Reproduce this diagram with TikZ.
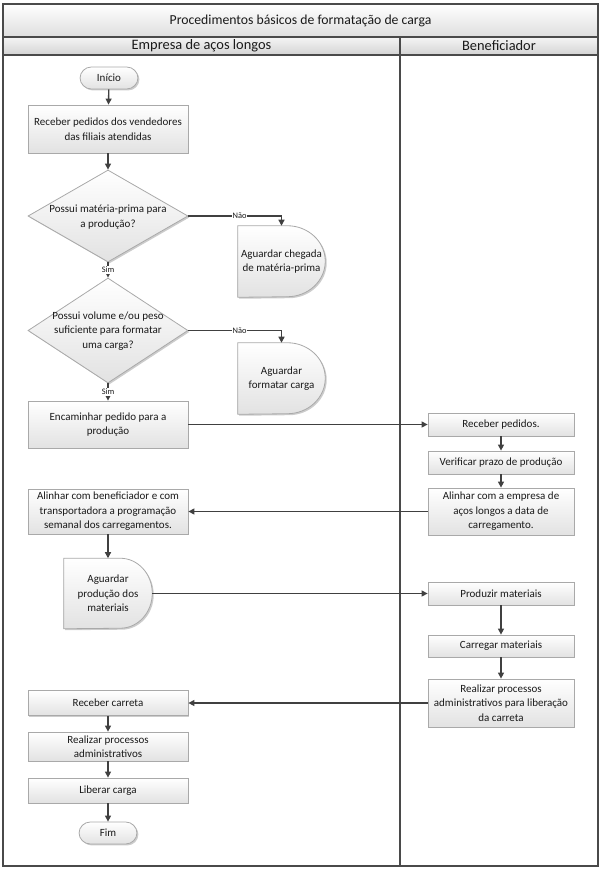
\documentclass[tikz,border=0pt]{standalone}
\usepackage{fontspec}
\setmainfont{Carlito}
\usetikzlibrary{shapes.geometric,arrows.meta,shadows}
\newdimen\pxu \pxu=0.75pt
\definecolor{linec}{HTML}{404040}
\definecolor{boxline}{HTML}{A9A9A9}
\definecolor{boxbot}{HTML}{E2E2E2}
\definecolor{txt}{HTML}{1A1A1A}
\definecolor{framec}{HTML}{4A4A4A}
\pgfdeclarelayer{bg}
\pgfsetlayers{bg,main}
\begin{document}
\begin{tikzpicture}[x=0.75pt,y=-0.75pt,
  every node/.style={font=\fontsize{8.25}{10.9}\selectfont, text=txt},
  shade/.style={top color=white, bottom color=boxbot},
  shad/.style={drop shadow={shadow xshift=1.1pt, shadow yshift=-1.1pt, opacity=0.2, fill=black}},
  box/.style={rectangle, draw=boxline, line width=0.6pt, shade, shad, align=center, inner sep=1pt},
  term/.style={box, rounded corners=8.5pt, minimum width=58*\pxu, minimum height=22*\pxu},
  dec/.style={diamond, draw=boxline, line width=0.6pt, shade, shad, inner sep=0pt, minimum width=160*\pxu},
  dectext/.style={align=center, inner sep=0pt},
  delay/.style={rectangle, align=center, inner sep=0pt},
  delayshape/.style={draw=boxline, line width=0.6pt, shade, shad},
  arr/.style={draw=linec, line width=1pt, -{Triangle[length=4.5pt, width=4.5pt]}},
  lbl/.style={font=\fontsize{6.3}{7}\selectfont, fill=white, inner sep=0.6pt},
  frame/.style={draw=framec, line width=1.1pt},
  lane/.style={draw=framec, line width=0.8pt},
  titlef/.style={font=\fontsize{10.3}{12}\selectfont},
  head/.style={font=\fontsize{10.8}{12}\selectfont}
]
\useasboundingbox (0,0) rectangle (602,870);
% frame
\path[top color=white, bottom color=black!13] (3,4) rectangle (598,37);
\path[top color=black!4, bottom color=black!17] (3,37) rectangle (598,55);
\draw[frame] (3,4) rectangle (598,866);
\draw[frame] (3,37) -- (598,37);
\draw[frame] (3,55) -- (598,55);
\draw[lane] (400,37) -- (400,866);
\node[titlef] (title) at (300.5,20.5) {Procedimentos básicos de formatação de carga};
\node[head] (lane1) at (201.5,46) {Empresa de aços longos};
\node[head] (lane2) at (499,46) {Beneficiador};

% left lane
\node[term] (ini) at (109,78) {Início};
\node[box, minimum width=160*\pxu, minimum height=48*\pxu] (r1) at (108,129) {Receber pedidos dos vendedores\\das filiais atendidas};
\node[dec, minimum height=92*\pxu] (q1) at (108,216) {};
\node[dectext] (q1t) at (108,217) {Possui matéria-prima para\\a produção?};
\node[delay, minimum width=87*\pxu, minimum height=71*\pxu] (d1) at (281.5,261.5) {Aguardar chegada\\de matéria-prima};
\node[dec, minimum height=105*\pxu] (q2) at (108,330.5) {};
\node[dectext] (q2t) at (108,331) {Possui volume e/ou peso\\suficiente para formatar\\uma carga?};
\node[delay, minimum width=87*\pxu, minimum height=71*\pxu] (d2) at (281.5,378.5) {Aguardar\\formatar carga};
\node[box, minimum width=160*\pxu, minimum height=47*\pxu] (e1) at (108,424.5) {Encaminhar pedido para a\\produção};
\node[box, minimum width=160*\pxu, minimum height=45*\pxu] (ab) at (108,511.5) {Alinhar com beneficiador e com\\transportadora a programação\\semanal dos carregamentos.};
\node[delay, minimum width=88*\pxu, minimum height=70*\pxu] (ap) at (108,593.5) {Aguardar\\produção dos\\materiais};
\node[box, minimum width=160*\pxu, minimum height=25*\pxu] (rc) at (108,703) {Receber carreta};
\node[box, minimum width=160*\pxu, minimum height=29*\pxu] (rpa) at (108,746.5) {Realizar processos\\administrativos};
\node[box, minimum width=160*\pxu, minimum height=25*\pxu] (lc) at (108,790.5) {Liberar carga};
\node[term] (fim) at (108,833) {Fim};

% right lane
\node[box, minimum width=146*\pxu, minimum height=23*\pxu] (rp) at (501,424.5) {Receber pedidos.};
\node[box, minimum width=146*\pxu, minimum height=23*\pxu] (vp) at (501,462.5) {Verificar prazo de produção};
\node[box, minimum width=146*\pxu, minimum height=47*\pxu] (al) at (501,511.5) {Alinhar com a empresa de\\aços longos a data de\\carregamento.};
\node[box, minimum width=146*\pxu, minimum height=23*\pxu] (pm) at (501,593.5) {Produzir materiais};
\node[box, minimum width=146*\pxu, minimum height=22*\pxu] (cm) at (501,646) {Carregar materiais};
\node[box, minimum width=146*\pxu, minimum height=48*\pxu] (ra) at (501,703) {Realizar processos\\administrativos para liberação\\da carreta};

% delay outlines
\begin{pgfonlayer}{bg}
\path[delayshape] (d1.south west) -- (d1.north west) -- ([xshift=-38*\pxu]d1.north east) arc[start angle=90, end angle=-90, x radius=38*\pxu, y radius=35.5*\pxu] -- cycle;
\path[delayshape] (d2.south west) -- (d2.north west) -- ([xshift=-38*\pxu]d2.north east) arc[start angle=90, end angle=-90, x radius=38*\pxu, y radius=35.5*\pxu] -- cycle;
\path[delayshape] (ap.south west) -- (ap.north west) -- ([xshift=-32*\pxu]ap.north east) arc[start angle=90, end angle=-90, x radius=32*\pxu, y radius=35*\pxu] -- cycle;
\end{pgfonlayer}

% connectors
\draw[arr] (ini) -- (r1);
\draw[arr] (r1) -- (q1);
\draw[arr] (q1.east) -- node[lbl, pos=0.55]{Não} (q1.east -| d1.north) -- (d1.north);
\draw[arr] (q1.south) -- node[lbl]{Sim} (q2.north);
\draw[arr] (q2.east) -- node[lbl, pos=0.55]{Não} (q2.east -| d2.north) -- (d2.north);
\draw[arr] (q2.south) -- node[lbl]{Sim} (e1.north);
\draw[arr] (e1.east) -- (rp.west);
\draw[arr] (rp) -- (vp);
\draw[arr] (vp) -- (al);
\draw[arr] (al.west) -- (ab.east);
\draw[arr] (ab.south) -- (ap.north);
\draw[arr] (ap.east) -- (pm.west);
\draw[arr] (pm) -- (cm);
\draw[arr] (cm) -- (ra);
\draw[arr] (ra.west) -- (rc.east);
\draw[arr] (rc) -- (rpa);
\draw[arr] (rpa) -- (lc);
\draw[arr] (lc) -- (fim);
\end{tikzpicture}
\end{document}
